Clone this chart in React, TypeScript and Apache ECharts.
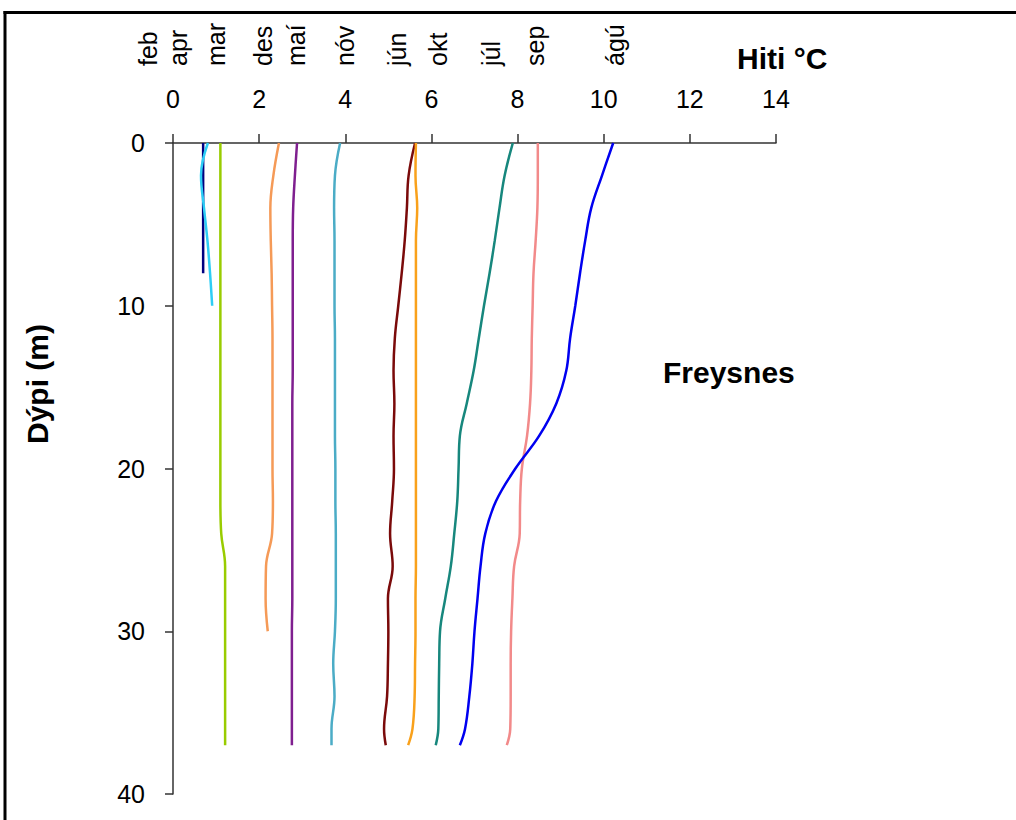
import React, { useEffect, useRef } from "react";
import * as echarts from "echarts";

// Depths (m) at which temperatures were read
const depths = [0, 2, 4, 6, 8, 10, 12, 14, 16, 18, 20, 22, 24, 26, 28, 30, 32, 34, 36, 37];

// Temperature (°C) per month, matched to depths (shorter arrays = shallower profiles)
const febTemp = [0.7, 0.7, 0.7, 0.7, 0.7];
const aprTemp = [0.81, 0.65, 0.72, 0.8, 0.86, 0.91];
const marTemp = [1.1, 1.1, 1.1, 1.1, 1.1, 1.1, 1.1, 1.1, 1.1, 1.1, 1.1, 1.1, 1.12, 1.21, 1.21, 1.21, 1.21, 1.21, 1.21, 1.21];
const desTemp = [2.46, 2.33, 2.26, 2.27, 2.29, 2.3, 2.31, 2.31, 2.31, 2.31, 2.31, 2.32, 2.3, 2.16, 2.15, 2.2];
const maiTemp = [2.88, 2.83, 2.79, 2.78, 2.78, 2.78, 2.78, 2.78, 2.77, 2.77, 2.77, 2.77, 2.77, 2.77, 2.77, 2.76, 2.76, 2.76, 2.76, 2.76];
const novTemp = [3.88, 3.76, 3.74, 3.75, 3.75, 3.75, 3.76, 3.76, 3.76, 3.76, 3.77, 3.77, 3.78, 3.78, 3.78, 3.76, 3.72, 3.75, 3.68, 3.68];
const junTemp = [5.62, 5.47, 5.43, 5.38, 5.31, 5.23, 5.15, 5.12, 5.14, 5.12, 5.13, 5.09, 5.04, 5.1, 4.99, 5.0, 4.99, 4.97, 4.9, 4.94];
const oktTemp = [5.64, 5.63, 5.67, 5.64, 5.64, 5.64, 5.64, 5.64, 5.64, 5.64, 5.64, 5.64, 5.64, 5.64, 5.63, 5.63, 5.62, 5.61, 5.56, 5.46];
const julTemp = [7.89, 7.7, 7.58, 7.47, 7.35, 7.22, 7.1, 6.98, 6.82, 6.66, 6.63, 6.6, 6.53, 6.45, 6.32, 6.2, 6.18, 6.17, 6.16, 6.1];
const sepTemp = [8.47, 8.47, 8.46, 8.42, 8.37, 8.35, 8.33, 8.32, 8.29, 8.22, 8.1, 8.06, 8.05, 7.92, 7.88, 7.85, 7.84, 7.84, 7.83, 7.75];
const aguTemp = [10.22, 9.96, 9.71, 9.57, 9.45, 9.34, 9.22, 9.13, 8.9, 8.5, 7.95, 7.5, 7.25, 7.14, 7.07, 7.0, 6.95, 6.88, 6.78, 6.66];

const monthNames = ["feb", "apr", "mar", "des", "maí", "nóv", "jún", "okt", "júl", "sep", "ágú"];
const monthTemps = [febTemp, aprTemp, marTemp, desTemp, maiTemp, novTemp, junTemp, oktTemp, julTemp, sepTemp, aguTemp];

const xTicks = { min: 0, max: 14, interval: 2 };
const yTicks = { min: 0, max: 40, interval: 10 };

const xTitle = "Hiti °C";
const yTitle = "Dýpi (m)";
const siteName = "Freysnes";

// Layout / style (kept apart from data)
const monthColors = ["#000080", "#2DCDF5", "#99CC00", "#F59A57", "#7F1F8F", "#4BACC6", "#7A0A0A", "#F9A11B", "#17877D", "#F28A8A", "#0000F0"];
const monthLabelX = [148, 178, 216, 263, 296, 345, 397, 438, 491, 535, 615];

export default function App() {
  const ref = useRef<HTMLDivElement>(null);

  useEffect(() => {
    document.body.style.margin = "0";
    if (!ref.current) return;
    const chart = echarts.init(ref.current, null, { renderer: "svg" });
    const font = "'Liberation Sans', Arial, sans-serif";

    const series = monthNames.map((name, i) => ({
      name,
      type: "line",
      smooth: 0.4,
      showSymbol: false,
      symbol: "none",
      data: monthTemps[i].map((t, k) => [t, depths[k]]),
      lineStyle: { color: monthColors[i], width: 2.5 },
      itemStyle: { color: monthColors[i] },
      z: 3,
    }));

    const graphic: any[] = [
      { type: "line", shape: { x1: 3.5, y1: 12.5, x2: 1016, y2: 12.5 }, style: { stroke: "#000", lineWidth: 3 }, z: 10 },
      { type: "line", shape: { x1: 5, y1: 11, x2: 5, y2: 820 }, style: { stroke: "#000", lineWidth: 3 }, z: 10 },
      {
        type: "text", x: 737, y: 58,
        style: { text: xTitle, font: `bold 30px ${font}`, fill: "#000", align: "left", verticalAlign: "middle" },
      },
      {
        type: "text", x: 663, y: 372,
        style: { text: siteName, font: `bold 30px ${font}`, fill: "#000", align: "left", verticalAlign: "middle" },
      },
      {
        type: "text", x: 37, y: 384, rotation: Math.PI / 2,
        style: { text: yTitle, font: `bold 30px ${font}`, fill: "#000", align: "center", verticalAlign: "middle" },
      },
      ...monthNames.map((name, i) => ({
        type: "text", x: monthLabelX[i], y: 66, rotation: Math.PI / 2,
        style: { text: name, font: `25px ${font}`, fill: "#000", align: "left", verticalAlign: "middle" },
      })),
    ];

    chart.setOption({
      animation: false,
      backgroundColor: "#fff",
      grid: { left: 173, top: 143, right: 240, bottom: 26, containLabel: false },
      xAxis: {
        type: "value",
        position: "top",
        min: xTicks.min,
        max: xTicks.max,
        interval: xTicks.interval,
        splitLine: { show: false },
        axisLine: { show: true, onZero: false, lineStyle: { color: "#333", width: 1.5 } },
        axisTick: { show: true, length: 9, lineStyle: { color: "#333", width: 1.5 } },
        axisLabel: { color: "#000", fontSize: 25, fontFamily: font, margin: 32 },
      },
      yAxis: {
        type: "value",
        inverse: true,
        min: yTicks.min,
        max: yTicks.max,
        interval: yTicks.interval,
        splitLine: { show: false },
        axisLine: { show: true, onZero: false, lineStyle: { color: "#333", width: 1.5 } },
        axisTick: { show: true, length: 8, lineStyle: { color: "#333", width: 1.5 } },
        axisLabel: { color: "#000", fontSize: 25, fontFamily: font, margin: 28 },
      },
      series,
      graphic,
    });

    return () => chart.dispose();
  }, []);

  return <div ref={ref} style={{ width: 1016, height: 820 }} />;
}
